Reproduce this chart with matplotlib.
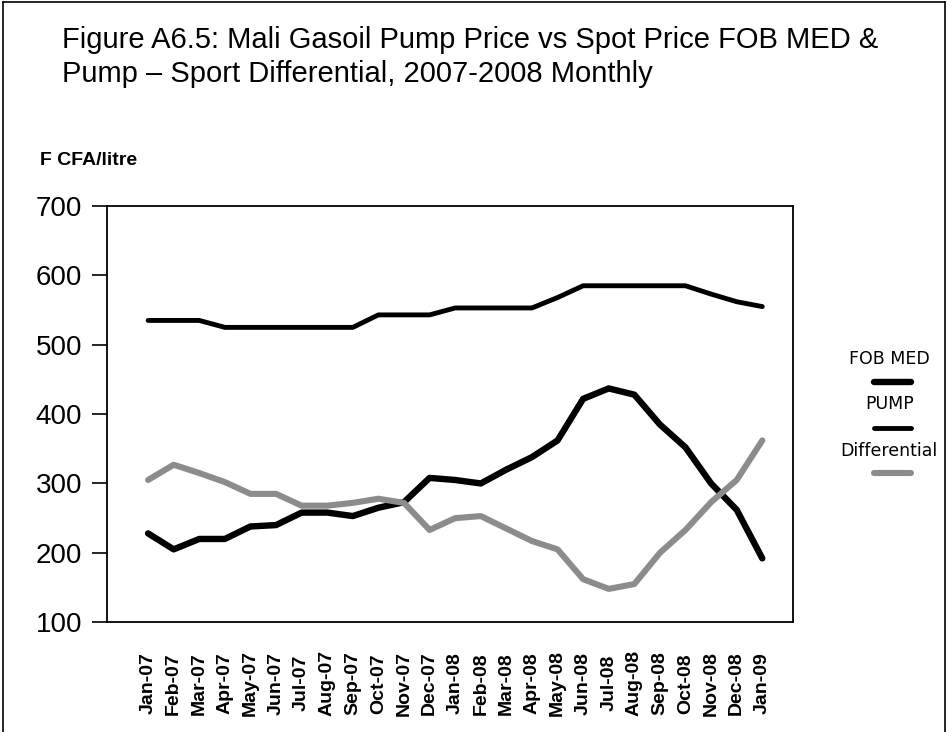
import matplotlib
matplotlib.use("Agg")
import matplotlib.pyplot as plt
from matplotlib.lines import Line2D

plt.rcParams["font.family"] = ["Liberation Sans", "DejaVu Sans"]

months = ["Jan-07", "Feb-07", "Mar-07", "Apr-07", "May-07", "Jun-07", "Jul-07",
          "Aug-07", "Sep-07", "Oct-07", "Nov-07", "Dec-07", "Jan-08", "Feb-08",
          "Mar-08", "Apr-08", "May-08", "Jun-08", "Jul-08", "Aug-08", "Sep-08",
          "Oct-08", "Nov-08", "Dec-08", "Jan-09"]

fob_med = [228, 205, 220, 220, 238, 240, 258, 258, 253, 265, 273, 308, 305,
           300, 320, 338, 362, 422, 437, 428, 385, 352, 300, 262, 192]
pump = [535, 535, 535, 525, 525, 525, 525, 525, 525, 543, 543, 543, 553,
        553, 553, 553, 568, 585, 585, 585, 585, 585, 573, 562, 555]
differential = [305, 327, 315, 302, 285, 285, 268, 268, 272, 278, 272, 233, 250,
                253, 235, 217, 205, 162, 148, 155, 200, 233, 273, 305, 362]

GREY = "#8c8c8c"

fig = plt.figure(figsize=(9.48, 7.32), dpi=100)
ax = fig.add_axes([0.113, 0.150, 0.7235, 0.5686])

x = list(range(len(months)))
ax.plot(x, fob_med, color="black", lw=4.6, solid_joinstyle="round",
        solid_capstyle="round", label="FOB MED")
ax.plot(x, pump, color="black", lw=3.5, solid_joinstyle="round",
        solid_capstyle="round", label="PUMP")
ax.plot(x, differential, color=GREY, lw=4.4, solid_joinstyle="round",
        solid_capstyle="round", label="Differential")

ax.set_xlim(-1.6, 25.2)
ax.set_ylim(100, 700)
ax.set_yticks(range(100, 701, 100))
ax.set_xticks(x)
ax.set_xticklabels(months, rotation=90, fontsize=14, fontweight="bold",
                   va="center")
ax.tick_params(axis="x", length=0, pad=44)
ax.tick_params(axis="y", length=11, width=1.2, labelsize=20, pad=7)
for s in ax.spines.values():
    s.set_linewidth(1.3)

# legend laid out like the original: label above its line sample
leg_items = [("FOB MED", "black", 4.6, 0.5096, 0.478),
             ("PUMP", "black", 3.5, 0.448, 0.4153),
             ("Differential", GREY, 4.4, 0.384, 0.354)]
for name, col, lw, ty, ly in leg_items:
    fig.text(0.938, ty, name, ha="center", va="center", fontsize=12.5,
             family="DejaVu Sans")
    fig.add_artist(Line2D([0.922, 0.961], [ly, ly], color=col, lw=lw,
                          solid_capstyle="round"))

fig.text(0.0655, 0.934, "Figure A6.5: Mali Gasoil Pump Price vs Spot Price FOB MED &",
         fontsize=21, va="baseline")
fig.text(0.0655, 0.888, "Pump \u2013 Sport Differential, 2007-2008 Monthly",
         fontsize=21, va="baseline")
fig.text(0.042, 0.781, "F CFA/litre", fontsize=14, fontweight="bold", va="center")

# outer frame
for xs, ys in [([0.003, 0.003], [0.0, 0.997]),
               ([0.003, 0.997], [0.997, 0.997]),
               ([0.997, 0.997], [0.0, 0.997])]:
    fig.add_artist(Line2D(xs, ys, color="black", lw=1.2))

fig.savefig("out.png", dpi=100)
